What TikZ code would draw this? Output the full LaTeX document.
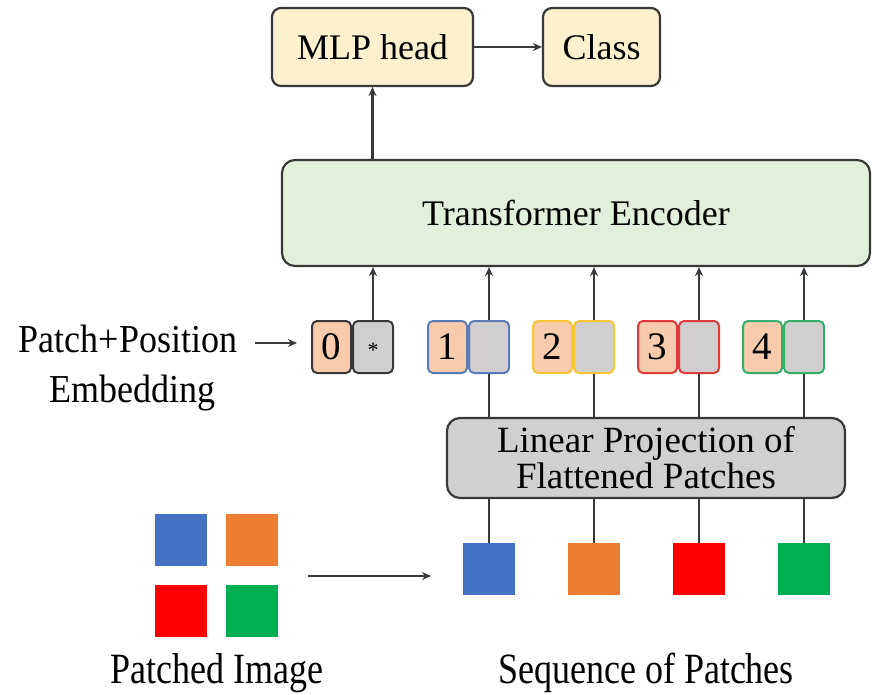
\documentclass[tikz,border=0pt]{standalone}
\usepackage{fontspec}
\setmainfont{Liberation Serif}
\usetikzlibrary{arrows.meta}
\definecolor{edge}{HTML}{383838}
\definecolor{cream}{HTML}{FDF0CE}
\definecolor{lgreen}{HTML}{E2EFDA}
\definecolor{lgray}{HTML}{D0D0D0}
\definecolor{peach}{HTML}{F8CBAD}
\definecolor{tgray}{HTML}{D0CECE}
\definecolor{bblue}{HTML}{5B7BB8}
\definecolor{byellow}{HTML}{F8C534}
\definecolor{bred}{HTML}{E03A3A}
\definecolor{bgreen}{HTML}{33AF6B}
\definecolor{sqblue}{HTML}{4472C4}
\definecolor{sqorange}{HTML}{ED7D31}
\definecolor{sqred}{HTML}{FF0000}
\definecolor{sqgreen}{HTML}{00B050}
\newcommand{\vs}[2]{\scalebox{1}[#1]{#2}}
\begin{document}
\begin{tikzpicture}[x=1pt,y=-1pt,
  every node/.style={font=\fontsize{36}{36}\selectfont, inner sep=0pt},
  bigbox/.style={draw=edge, line width=2.2pt, rounded corners=9pt, align=center},
  numbox/.style={draw=#1, line width=2pt, rounded corners=5pt, fill=peach, minimum width=39pt, minimum height=52pt},
  graybox/.style={draw=#1, line width=2pt, rounded corners=5pt, fill=tgray, minimum width=40pt, minimum height=52pt},
  sq/.style={fill=#1, minimum width=52pt, minimum height=52pt},
  conn/.style={draw=edge, line width=2.2pt},
  arr/.style={conn, -{Stealth[length=9pt,width=8pt]}},
  lbl/.style={anchor=base}
]
\useasboundingbox (0,0) rectangle (872,694);

% top boxes
\node[bigbox, fill=cream, minimum width=201pt, minimum height=78pt] (mlp) at (372.5,47) {MLP head};
\node[bigbox, fill=cream, minimum width=117pt, minimum height=78pt] (cls) at (601.5,47) {Class};
\node[bigbox, fill=lgreen, rounded corners=13pt, minimum width=588pt, minimum height=106pt] (enc) at (576,213) {Transformer Encoder};
\node[bigbox, fill=lgray, rounded corners=13pt, minimum width=398pt, minimum height=80pt,
      font=\fontsize{37}{36}\selectfont] (proj) at (646,458) {Linear Projection of\\Flattened Patches};

% tokens
\node[graybox=edge] (g0) at (373,347) {};
\node[numbox=edge, anchor=east] (n0) at (g0.west) {\fontsize{39}{39}\selectfont 0};
\node at (373,350) {\fontsize{22}{22}\selectfont *};
\node[graybox=bblue] (g1) at (489,347) {};
\node[numbox=bblue, anchor=east] (n1) at (g1.west) {\fontsize{39}{39}\selectfont 1};
\node[graybox=byellow] (g2) at (594,347) {};
\node[numbox=byellow, anchor=east] (n2) at (g2.west) {\fontsize{39}{39}\selectfont 2};
\node[graybox=bred] (g3) at (699,347) {};
\node[numbox=bred, anchor=east] (n3) at (g3.west) {\fontsize{39}{39}\selectfont 3};
\node[graybox=bgreen] (g4) at (804,347) {};
\node[numbox=bgreen, anchor=east] (n4) at (g4.west) {\fontsize{39}{39}\selectfont 4};

% sequence squares
\node[sq=sqblue] (s1) at (489,569) {};
\node[sq=sqorange] (s2) at (594,569) {};
\node[sq=sqred] (s3) at (699,569) {};
\node[sq=sqgreen] (s4) at (804,569) {};

% patched image
\node[sq=sqblue] (p1) at (181,540) {};
\node[sq=sqorange] (p2) at (251.5,540) {};
\node[sq=sqred] (p3) at (181,610.5) {};
\node[sq=sqgreen] (p4) at (251.5,610.5) {};

% labels
\node[lbl] (lpp) at (128,352) {\vs{1.1}{Patch+Position}};
\node[lbl] (lemb) at (132,402) {\vs{1.1}{Embedding}};
\node[lbl] (lpi) at (217,683) {\vs{1.2}{Patched Image}};
\node[lbl] (lsp) at (646,683) {\vs{1.2}{Sequence of Patches}};

\coordinate (ea) at (255,343);
\coordinate (eb) at (297,343);
\coordinate (pa) at (308,576);
\coordinate (pb) at (431,576);

% connectors
\draw[arr] (mlp) -- (cls);
\draw[arr] (enc.north -| mlp) -- (mlp.south);
\draw[arr] (g0.north) -- (g0.north |- enc.south);
\foreach \i in {1,2,3,4}{
  \draw[arr] (g\i.north) -- (g\i.north |- enc.south);
  \draw[conn] (proj.north -| g\i) -- (g\i.south);
  \draw[conn] (s\i.north) -- (s\i.north |- proj.south);
}
\draw[arr, line width=1.5pt] (ea) -- (eb);
\draw[arr, line width=1.5pt] (pa) -- (pb);
\end{tikzpicture}
\end{document}
